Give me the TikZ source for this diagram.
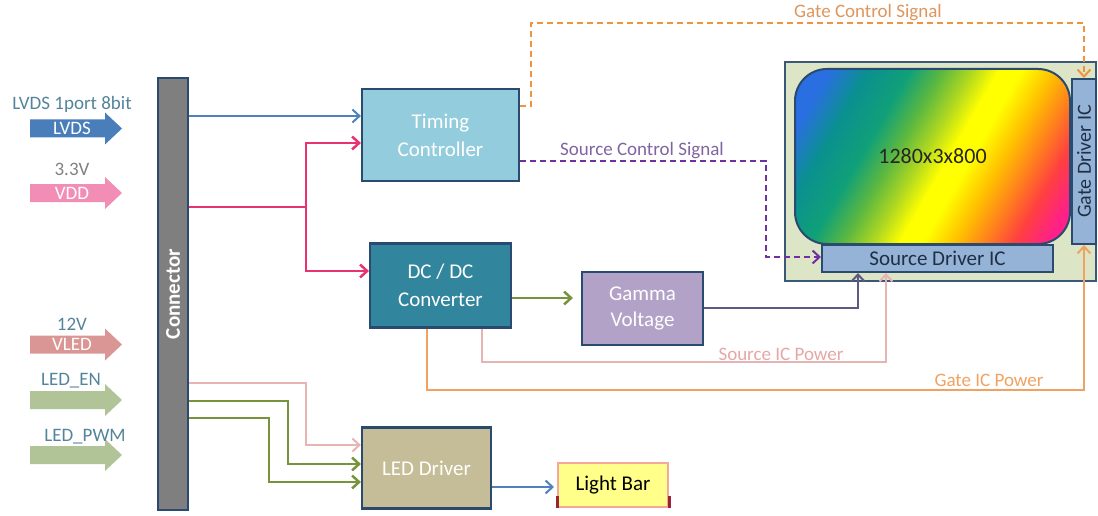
\documentclass[tikz,border=0pt]{standalone}
\usepackage{fontspec}
\setmainfont{Carlito}
\usetikzlibrary{arrows.meta}
\definecolor{edge}{HTML}{2A4A70}
\definecolor{tcfill}{HTML}{93CDDD}
\definecolor{dcfill}{HTML}{31859C}
\definecolor{gamfill}{HTML}{B3A2C7}
\definecolor{ledfill}{HTML}{C4BD97}
\definecolor{lbfill}{HTML}{FFFF8A}
\definecolor{lbedge}{HTML}{F4A89A}
\definecolor{lbmark}{HTML}{9B2335}
\definecolor{panelfill}{HTML}{DCE6C6}
\definecolor{paneledge}{HTML}{3A5878}
\definecolor{icfill}{HTML}{95B3D7}
\definecolor{ictext}{HTML}{1F2F45}
\definecolor{connfill}{HTML}{7F7F7F}
\definecolor{lvdsc}{HTML}{4A7EBB}
\definecolor{vddc}{HTML}{F28DB6}
\definecolor{vledc}{HTML}{D99694}
\definecolor{ledc}{HTML}{B0C497}
\definecolor{inlabel}{HTML}{54849A}
\definecolor{bluel}{HTML}{4F81BD}
\definecolor{pinkl}{HTML}{E8336F}
\definecolor{orangel}{HTML}{F0923E}
\definecolor{orangetxt}{HTML}{E0955A}
\definecolor{purplel}{HTML}{7030A0}
\definecolor{purpletxt}{HTML}{8064A2}
\definecolor{greenl}{HTML}{77933C}
\definecolor{gaml}{HTML}{5F5A80}
\definecolor{rosel}{HTML}{E6B4B3}
\definecolor{rosetxt}{HTML}{E6A6A6}
\definecolor{gipl}{HTML}{F0A262}
\definecolor{s0}{HTML}{2A6FE2}
\definecolor{s1}{HTML}{0A9090}
\definecolor{s2}{HTML}{10A078}
\definecolor{s3}{HTML}{5CB840}
\definecolor{s4}{HTML}{B0D820}
\definecolor{s5}{HTML}{FFFF00}
\definecolor{s6}{HTML}{FFC000}
\definecolor{s7}{HTML}{FF7A20}
\definecolor{s8}{HTML}{FF4040}
\definecolor{s9}{HTML}{FF2088}
\pgfdeclarehorizontalshading{rainbow}{100bp}{color(0bp)=(s0); color(22bp)=(s0); color(29bp)=(s1); color(36.8bp)=(s2); color(42.8bp)=(s3); color(48.2bp)=(s4); color(53bp)=(s5); color(57.2bp)=(s5); color(63.2bp)=(s6); color(69.2bp)=(s7); color(74bp)=(s8); color(80bp)=(s9); color(100bp)=(s9)}
\newcommand\boxfont{\fontsize{21}{28}\selectfont}
\newcommand\lblfont{\fontsize{19}{22}\selectfont}
\newcommand\blockarrow[4]{%
  \fill[#3] (30,#2-9) -- (105,#2-9) -- (105,#2-16) -- (122,#2) -- (105,#2+16) -- (105,#2+9) -- (30,#2+9) -- cycle;
  \node[arrowtext] (#1) at (72,#2) {#4};}
\begin{document}
\begin{tikzpicture}[x=1pt,y=-1pt,
  box/.style={draw=edge, line width=2.2pt, align=center, text=white, font=\boxfont, inner sep=0pt},
  icbox/.style={draw=edge, line width=2pt, fill=icfill, text=ictext, font=\boxfont, inner sep=0pt},
  arrowtext/.style={text=white, font=\lblfont, inner sep=0pt},
  inlbl/.style={text=inlabel, font=\lblfont, inner sep=0pt},
  siglbl/.style={font=\lblfont, inner sep=0pt},
  wire/.style={line width=2pt},
  tip/.style={-{Straight Barb[length=7pt,width=13pt]}},
  dashes/.style={dash pattern=on 6pt off 4pt}]
\useasboundingbox (0,0) rectangle (1098,516);

% input block arrows
\blockarrow{lvds}{128.5}{lvdsc}{LVDS}
\blockarrow{vdd}{193}{vddc}{VDD}
\blockarrow{vled}{344.5}{vledc}{VLED}
\blockarrow{leden}{400}{ledc}{}
\blockarrow{ledpwm}{455}{ledc}{}
\node[inlbl] (lvdslbl) at (72,104) {LVDS 1port 8bit};
\node[inlbl, text=gray] (vddlbl) at (72,169) {3.3V};
\node[inlbl] (vledlbl) at (72,324) {12V};
\node[inlbl] (ledenlbl) at (71,381) {LED\_EN};
\node[inlbl] (ledpwmlbl) at (85,437) {LED\_PWM};

% connector bar
\node[draw=edge, line width=2.5pt, fill=connfill, minimum width=30, minimum height=432, inner sep=0pt] (conn) at (173,294) {};
\node[rotate=90, text=white, font=\boxfont\bfseries, inner sep=0pt] (connlbl) at (conn.center) {Connector};

% blocks
\node[box, fill=tcfill, minimum width=157, minimum height=92] (tc) at (440.5,135) {Timing\\Controller};
\node[box, fill=dcfill, minimum width=141, minimum height=84] (dc) at (440.5,285.5) {DC / DC\\Converter};
\node[box, fill=gamfill, minimum width=121, minimum height=73, font=\fontsize{21}{26}\selectfont] (gam) at (642.5,308.5) {Gamma\\Voltage};
\node[box, fill=ledfill, minimum width=129, minimum height=81] (led) at (426.5,468) {LED Driver};
\node[draw=lbedge, line width=2pt, fill=lbfill, minimum width=110, minimum height=44, font=\boxfont, inner sep=0pt] (lb) at (613,485) {Light Bar};
\draw[lbmark, line width=3pt] (lb.south west) -- ++(0,-12);
\draw[lbmark, line width=3pt] (lb.south east) -- ++(0,-12);

% panel
\node[draw=paneledge, line width=2.5pt, fill=panelfill, minimum width=311, minimum height=219, inner sep=0pt] (panel) at (940.5,171.5) {};
\node[draw=edge, line width=2pt, rounded corners=32pt, shading=rainbow, shading angle=-30, minimum width=275, minimum height=175, font=\fontsize{22}{24}\selectfont, text=black!85, inner sep=0pt] (scr) at (932.5,156.5) {1280x3x800};
\node[icbox, minimum width=24, minimum height=165] (gate) at (1084,161.5) {};
\node[rotate=90, text=ictext, font=\fontsize{20}{22}\selectfont, inner sep=0pt] (gatelbl) at (gate.center) {Gate Driver IC};
\node[icbox, minimum width=231, minimum height=27] (src) at (937.5,258.5) {Source Driver IC};

% connector -> timing controller (LVDS)
\draw[wire, bluel, tip] (conn.east |- 0,116) -- (tc.west |- 0,116);
% power 3.3V
\coordinate (pj) at (306,207);
\draw[wire, pinkl, line width=2.5pt] (conn.east |- pj) -- (pj);
\draw[wire, pinkl, line width=2.5pt, tip] (pj) |- (tc.west |- 0,143);
\draw[wire, pinkl, line width=2.5pt, tip] (pj) |- (dc.west |- 0,271);

% gate control signal
\draw[wire, orangel, dashes, tip] (tc.east |- 0,106) -- (531,106) -- (531,23) -| (gate.north);
\node[siglbl, text=orangetxt] (gcs) at (868,13) {Gate Control Signal};
% source control signal
\draw[wire, purplel, dashes, tip] (tc.east |- 0,161) -- (766,161) |- (src.west |- 0,257);
\node[siglbl, text=purpletxt] (scs) at (642,151) {Source Control Signal};

% DC/DC -> gamma
\draw[wire, greenl, line width=2.5pt, tip, shorten >=8pt] (dc.east |- 0,298) -- (gam.west |- 0,298);
% gamma -> source driver
\draw[wire, gaml, tip] (gam.east |- 0,308) -| (src.south -| 858,0);
% source IC power
\draw[wire, rosel, tip] (dc.south -| 482,0) |- (886,362) -- (src.south -| 886,0);
\node[siglbl, text=rosetxt] (sip) at (781,354) {Source IC Power};
% gate IC power
\draw[wire, gipl, tip] (dc.south -| 427,0) |- (1084,390) -- (gate.south);
\node[siglbl, text=gipl] (gip) at (989,380) {Gate IC Power};

% connector -> LED driver
\draw[wire, rosel, tip] (conn.east |- 0,383) -| (306,445) -- (led.west |- 0,445);
\draw[wire, greenl, line width=2.5pt, tip] (conn.east |- 0,401) -| (288,464) -- (led.west |- 0,464);
\draw[wire, greenl, line width=2.5pt, tip] (conn.east |- 0,418) -| (269,482) -- (led.west |- 0,482);
% LED driver -> light bar
\draw[wire, bluel, tip, shorten >=3pt] (led.east |- 0,487) -- (lb.west |- 0,487);
\end{tikzpicture}
\end{document}
